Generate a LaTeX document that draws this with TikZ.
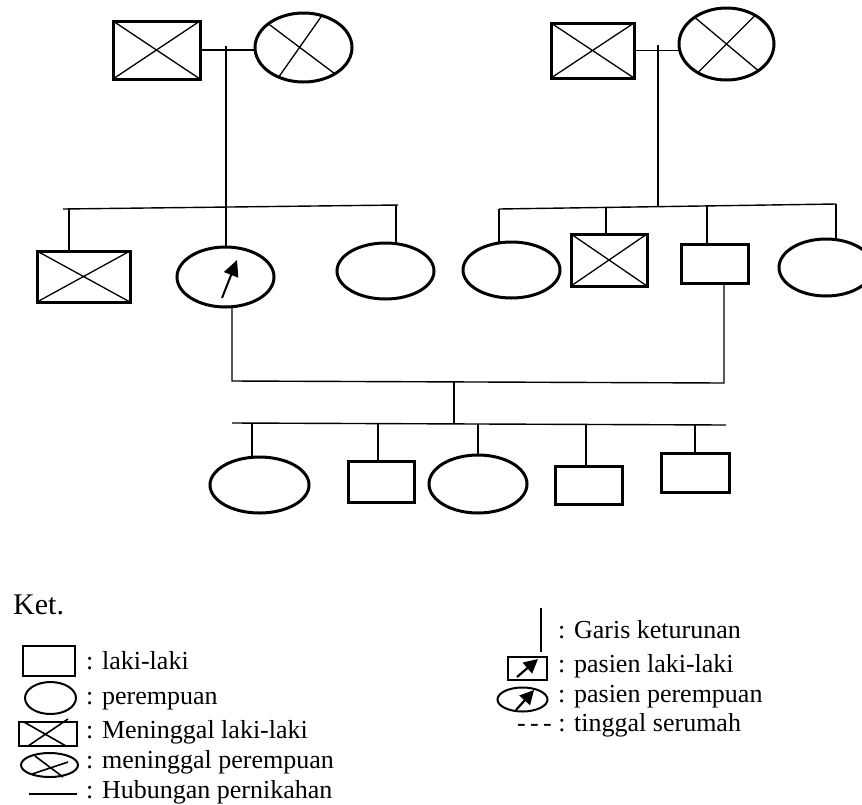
\documentclass[tikz,border=0pt]{standalone}
\usepackage{fontspec}
\setmainfont{Liberation Serif}
\usetikzlibrary{shapes.geometric,arrows.meta}
\tikzset{
  person/.style={draw, line width=3pt, inner sep=0pt, outer sep=0pt},
  male/.style={person, rectangle},
  female/.style={person, ellipse},
  lgmale/.style={draw, rectangle, line width=2pt, inner sep=0pt},
  lgfemale/.style={draw, ellipse, line width=2pt, inner sep=0pt},
  link/.style={line width=1.4pt},
  cross/.style={line width=1.3pt},
  proband/.style={line width=2pt, -{Triangle[length=16pt,width=15pt]}},
  lgproband/.style={line width=2.2pt, -{Triangle[length=14pt,width=14pt]}},
  legtext/.style={anchor=base west, inner sep=0pt, font=\fontsize{26}{30}\selectfont},
}
\begin{document}
\begin{tikzpicture}[x=1pt,y=-1pt]
\useasboundingbox (0,0) rectangle (862,804);
\clip (0,0) rectangle (862,804);

% ---------- Generation I ----------
\node[male, minimum width=87, minimum height=58] (gf1) at (156.5,50) {};
\node[female, minimum width=97, minimum height=69] (gm1) at (303.5,47.5) {};
\draw[cross] (gf1.north west) -- (gf1.south east) (gf1.south west) -- (gf1.north east);
\draw[cross] (gm1.146) -- (gm1.-40) (gm1.60) -- (gm1.230);

\node[male, minimum width=83, minimum height=55] (gf2) at (592.5,50.5) {};
\node[female, minimum width=95, minimum height=72] (gm2) at (726.5,44) {};
\draw[cross] (gf2.north west) -- (gf2.south east) (gf2.south west) -- (gf2.north east);
\draw[cross] (gm2.140) -- (gm2.-40) (gm2.45) -- (gm2.225);

\draw[link] (gf1.east) -- (gf1.east -| gm1.west);
\draw[link] (gf2.east) -- (gf2.east -| gm2.west);

% ---------- Generation II ----------
\node[male, minimum width=93, minimum height=51] (u1) at (83.5,276.5) {};
\draw[cross] (u1.north west) -- (u1.south east) (u1.south west) -- (u1.north east);
\node[female, minimum width=97, minimum height=60] (p) at (225.5,277) {};
\draw[proband] (222,298) -- (237,260);
\node[female, minimum width=97, minimum height=56] (a1) at (385.5,271) {};

\node[female, minimum width=97, minimum height=56] (b1) at (511.5,270) {};
\node[male, minimum width=76, minimum height=52] (b2) at (609,260) {};
\draw[cross] (b2.north west) -- (b2.south east) (b2.south west) -- (b2.north east);
\node[male, minimum width=67, minimum height=39] (h) at (714.5,263.5) {};
\node[female, minimum width=94, minimum height=57] (b4) at (826,267.5) {};

% descent lines from generation I
\coordinate (d1top) at (226,46);
\draw[link] (d1top) -- (d1top |- p.north);
\coordinate (d2top) at (658,45);
\coordinate (s2m) at (658,206.6);
\draw[link] (d2top) -- (s2m);

% sibship lines
\coordinate (s1a) at (63,209);
\coordinate (s1b) at (398,205);
\draw[link] (s1a) -- (s1b);
\coordinate (k1) at (69,209);
\coordinate (k3) at (396,205);
\draw[link] (k1) -- (k1 |- u1.north);
\draw[link] (k3) -- (k3 |- a1.north);

\coordinate (s2a) at (499,209);
\coordinate (s2b) at (836,204);
\draw[link] (s2a) -- (s2b);
\coordinate (r1) at (499,209);
\coordinate (r2) at (606,207.5);
\coordinate (r3) at (707,206);
\coordinate (r4) at (836,204);
\draw[link] (r1) -- (r1 |- b1.north);
\draw[link] (r2) -- (r2 |- b2.north);
\draw[link] (r3) -- (r3 |- h.north);
\draw[link] (r4) -- (r4 |- b4.north);

% marriage of generation II
\coordinate (m2a) at (232,381);
\coordinate (m2b) at (724,383);
\draw[link] (m2a |- p.south) -- (m2a) -- (m2b) -- (m2b |- h.south);
\coordinate (m2c) at (454,382);
\coordinate (s3c) at (454,424);
\draw[link] (m2c) -- (s3c);

% ---------- Generation III ----------
\coordinate (s3a) at (232,423);
\coordinate (s3b) at (726,425);
\draw[link] (s3a) -- (s3b);
\node[female, minimum width=99, minimum height=56] (c1) at (259.5,485) {};
\node[male, minimum width=66, minimum height=41] (c2) at (381,481.5) {};
\node[female, minimum width=98, minimum height=58] (c3) at (478,484) {};
\node[male, minimum width=67, minimum height=38] (c4) at (588.5,485) {};
\node[male, minimum width=68, minimum height=39] (c5) at (695,472.5) {};
\coordinate (t1) at (252,423);
\coordinate (t2) at (378,423.7);
\coordinate (t3) at (478,424);
\coordinate (t4) at (586,424.4);
\coordinate (t5) at (695,424.8);
\draw[link] (t1) -- (t1 |- c1.north);
\draw[link] (t2) -- (t2 |- c2.north);
\draw[link] (t3) -- (t3 |- c3.north);
\draw[link] (t4) -- (t4 |- c4.north);
\draw[link] (t5) -- (t5 |- c5.north);

% ---------- Legend ----------
\node[anchor=base west, inner sep=0pt, font=\fontsize{30}{34}\selectfont] (ket) at (13,614) {Ket.};

\node[lgmale, minimum width=52, minimum height=30] (lm) at (49,661) {};
\node[lgfemale, minimum width=51, minimum height=32] (lf) at (50.5,698) {};
\node[lgmale, minimum width=58, minimum height=24] (ldm) at (48,734) {};
\draw[cross, line width=1.6pt] (24,722) -- (66,746) (28,746) -- (68,719);
\node[lgfemale, minimum width=57, minimum height=24] (ldf) at (49.5,765) {};
\draw[cross, line width=1.6pt] (35,756) -- (63,777) (32,774) -- (68,762);
\coordinate (hl1) at (29,794);
\coordinate (hl2) at (77,794);
\draw[line width=1.6pt] (hl1) -- (hl2);

\node[legtext] (l1) at (86,669) {: laki-laki};
\node[legtext] (l2) at (86,704) {: perempuan};
\node[legtext] (l3) at (86,738) {: Meninggal laki-laki};
\node[legtext] (l4) at (86,768) {: meninggal perempuan};
\node[legtext] (l5) at (86,798) {: Hubungan pernikahan};

\coordinate (gl1) at (541,608);
\coordinate (gl2) at (541,652);
\draw[line width=1.6pt] (gl1) -- (gl2);
\node[lgmale, minimum width=39, minimum height=23] (lpm) at (527.5,668.5) {};
\draw[lgproband] (517,677) -- (538,659);
\node[lgfemale, minimum width=50, minimum height=24] (lpf) at (522.5,699.5) {};
\draw[lgproband] (516,710) -- (534,690);

\node[legtext] (r1t) at (558,638) {: Garis keturunan};
\node[legtext] (r2t) at (558,672) {: pasien laki-laki};
\node[legtext] (r3t) at (558,702) {: pasien perempuan};
\node[legtext] (r4t) at (517,731) {-\,-\,- : tinggal serumah};
\end{tikzpicture}
\end{document}
